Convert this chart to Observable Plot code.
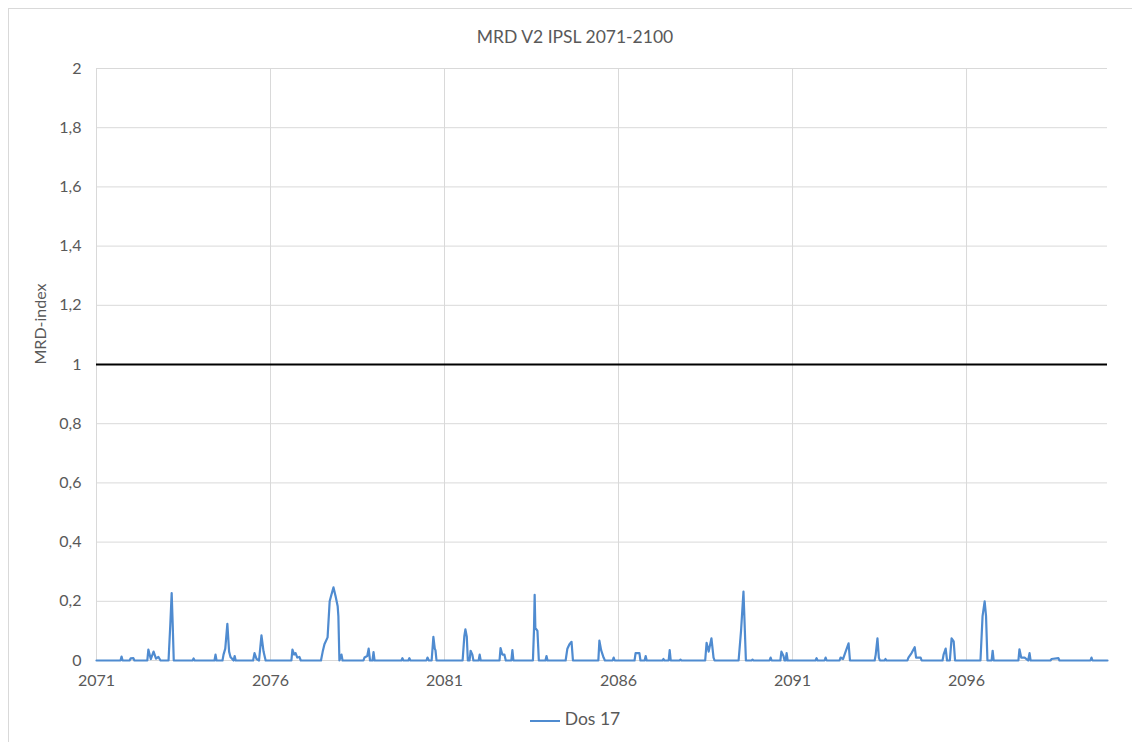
<!DOCTYPE html>
<html>
<head>
<meta charset="utf-8">
<script src="https://cdn.jsdelivr.net/npm/d3@7"></script>
<script src="https://cdn.jsdelivr.net/npm/@observablehq/plot@0.6"></script>
<style>
  html, body { margin: 0; padding: 0; background: #fff; }
  body { width: 1132px; height: 742px; position: relative; overflow: hidden; font-family: Lato, "Open Sans", sans-serif; }
  #frame { position: absolute; left: 8px; top: 8px; width: 1130px; height: 745px; border: 1px solid #d9d9d9; box-sizing: border-box; }
  #title { position: absolute; top: 26px; left: 0; width: 1150px; text-align: center; font-size: 17.5px; color: #595959; }
  #chart { position: absolute; left: 0; top: 50px; }
  #legend { position: absolute; top: 708px; left: 0; width: 1150px; text-align: center; font-size: 17.5px; color: #595959; }
  #legend .sw { display: inline-block; width: 30px; height: 2px; background: #4f8bd0; vertical-align: middle; margin-right: 5px; }
</style>
</head>
<body>
<div id="frame"></div>
<div id="title"></div>
<div id="chart"></div>
<div id="legend"></div>
<script>
const chartTitle = "MRD V2 IPSL 2071-2100";
const yLabel = "MRD-index";
const seriesName = "Dos 17";
const threshold = 1;
const yearTicks = [2071, 2076, 2081, 2086, 2091, 2096];
const valueTicks = [0, 0.2, 0.4, 0.6, 0.8, 1, 1.2, 1.4, 1.6, 1.8, 2];
const xDomain = [2071, 2100.05];

const dates = [
  2071.00, 2071.69, 2071.72, 2071.75, 2071.95, 2071.98, 2072.06, 2072.09,
  2072.46, 2072.49, 2072.56, 2072.64, 2072.71, 2072.78, 2072.84,
  2073.07, 2073.12, 2073.16, 2073.19, 2073.22,
  2073.76, 2073.79, 2073.82,
  2074.39, 2074.42, 2074.45,
  2074.62, 2074.65, 2074.70, 2074.76, 2074.81, 2074.85, 2074.94, 2074.97, 2075.00,
  2075.50, 2075.54, 2075.60, 2075.67, 2075.74, 2075.80, 2075.86,
  2076.60, 2076.63, 2076.68, 2076.72, 2076.77, 2076.83, 2076.87,
  2077.45, 2077.50, 2077.55, 2077.64, 2077.70, 2077.75, 2077.81, 2077.87, 2077.93, 2077.95, 2077.98, 2078.04, 2078.07,
  2078.67, 2078.70, 2078.78, 2078.82, 2078.86, 2078.93, 2078.96, 2078.99,
  2079.76, 2079.79, 2079.82, 2079.96, 2079.99, 2080.02,
  2080.48, 2080.51, 2080.55, 2080.63, 2080.68, 2080.72, 2080.74, 2080.77,
  2081.52, 2081.57, 2081.60, 2081.64, 2081.67, 2081.72, 2081.75, 2081.80, 2081.83,
  2081.98, 2082.01, 2082.04,
  2082.58, 2082.61, 2082.66, 2082.72, 2082.76, 2082.92, 2082.95, 2082.98,
  2083.54, 2083.57, 2083.59, 2083.61, 2083.67, 2083.71, 2083.90, 2083.93, 2083.96,
  2084.48, 2084.53, 2084.59, 2084.65, 2084.69,
  2085.42, 2085.45, 2085.50, 2085.57, 2085.61, 2085.83, 2085.86, 2085.89,
  2086.46, 2086.49, 2086.60, 2086.63, 2086.75, 2086.78, 2086.81,
  2087.26, 2087.29, 2087.32, 2087.44, 2087.47, 2087.50, 2087.75, 2087.78, 2087.81,
  2088.49, 2088.53, 2088.59, 2088.67, 2088.73, 2088.76,
  2089.45, 2089.52, 2089.59, 2089.63, 2089.66, 2089.82, 2089.85, 2089.88,
  2090.34, 2090.37, 2090.40, 2090.65, 2090.68, 2090.74, 2090.77, 2090.80, 2090.83, 2090.86,
  2091.66, 2091.69, 2091.72, 2091.92, 2091.95, 2091.98,
  2092.35, 2092.38, 2092.45, 2092.52, 2092.61, 2092.65,
  2093.36, 2093.39, 2093.44, 2093.48, 2093.51, 2093.64, 2093.67, 2093.70,
  2094.30, 2094.33, 2094.42, 2094.51, 2094.55, 2094.68, 2094.71,
  2095.31, 2095.34, 2095.40, 2095.44, 2095.52, 2095.57, 2095.63, 2095.67,
  2096.40, 2096.46, 2096.52, 2096.56, 2096.60, 2096.72, 2096.75, 2096.78,
  2097.49, 2097.52, 2097.57, 2097.67, 2097.77, 2097.81, 2097.84,
  2098.41, 2098.44, 2098.64, 2098.67,
  2099.56, 2099.59, 2099.62, 2100.05
];

const values = [
  0, 0, 0.013, 0, 0, 0.007, 0.008, 0,
  0, 0.037, 0.005, 0.03, 0.006, 0.012, 0,
  0, 0.12, 0.228, 0.12, 0,
  0, 0.007, 0,
  0, 0.02, 0,
  0, 0.02, 0.04, 0.124, 0.03, 0.012, 0, 0.015, 0,
  0, 0.025, 0.005, 0, 0.085, 0.03, 0,
  0, 0.037, 0.02, 0.025, 0.01, 0.012, 0,
  0, 0.03, 0.055, 0.078, 0.2, 0.222, 0.247, 0.217, 0.183, 0.15, 0, 0.02, 0,
  0, 0.01, 0.015, 0.04, 0, 0, 0.028, 0,
  0, 0.008, 0, 0, 0.008, 0,
  0, 0.01, 0, 0, 0.08, 0.04, 0.035, 0,
  0, 0.083, 0.105, 0.08, 0, 0, 0.033, 0.02, 0,
  0, 0.02, 0,
  0, 0.042, 0.02, 0.02, 0, 0, 0.035, 0,
  0, 0.1, 0.222, 0.11, 0.1, 0, 0, 0.015, 0,
  0, 0.04, 0.055, 0.063, 0,
  0, 0.067, 0.035, 0.01, 0, 0, 0.01, 0,
  0, 0.025, 0.025, 0, 0, 0.015, 0,
  0, 0.005, 0, 0, 0.035, 0, 0, 0.003, 0,
  0, 0.06, 0.03, 0.075, 0.01, 0,
  0, 0.1, 0.233, 0.1, 0, 0, 0.003, 0,
  0, 0.01, 0, 0, 0.03, 0.015, 0, 0, 0.025, 0,
  0, 0.008, 0, 0, 0.01, 0,
  0, 0.01, 0.005, 0.028, 0.058, 0,
  0, 0.02, 0.075, 0.01, 0, 0, 0.005, 0,
  0, 0.01, 0.025, 0.045, 0.01, 0.01, 0,
  0, 0.02, 0.04, 0, 0, 0.075, 0.065, 0,
  0, 0.15, 0.2, 0.15, 0, 0, 0.033, 0,
  0, 0.038, 0.01, 0.01, 0, 0.025, 0,
  0, 0.005, 0.008, 0,
  0, 0.01, 0, 0
];

const series = dates.map((d, i) => ({date: d, value: values[i]}));
const fmtComma = d => String(d).replace(".", ",");
const grey = "#d9d9d9";
const textColor = "#595959";
const lineColor = "#4f8bd0";

document.getElementById("title").textContent = chartTitle;
document.getElementById("legend").innerHTML = '<span class="sw"></span>' + seriesName;

const chart = Plot.plot({
  width: 1132,
  height: 650,
  marginLeft: 96,
  marginRight: 25,
  marginTop: 18,
  marginBottom: 40,
  style: {fontFamily: "Lato, 'Open Sans', sans-serif", fontSize: "15px", color: textColor, background: "transparent"},
  x: {domain: xDomain, ticks: yearTicks},
  y: {domain: [0, 2], ticks: valueTicks},
  marks: [
    Plot.gridY(valueTicks, {stroke: grey, strokeOpacity: 1}),
    Plot.gridX(yearTicks, {stroke: grey, strokeOpacity: 1}),
    Plot.axisY(valueTicks, {tickSize: 0, tickPadding: 15, tickFormat: fmtComma, fill: textColor, fontSize: 16,
      label: null}),
    Plot.text([yLabel], {frameAnchor: "left", dx: -56, rotate: -90, fill: textColor, fontSize: 16}),
    Plot.axisX(yearTicks, {tickSize: 0, tickPadding: 14, tickFormat: d => String(d), fill: textColor, fontSize: 16, label: null}),
    Plot.ruleY([0], {stroke: grey}),
    Plot.ruleY([threshold], {stroke: "#000", strokeWidth: 2}),
    Plot.line(series, {x: "date", y: "value", stroke: lineColor, strokeWidth: 2.2, curve: "linear"})
  ]
});
document.getElementById("chart").appendChild(chart);
</script>
</body>
</html>
